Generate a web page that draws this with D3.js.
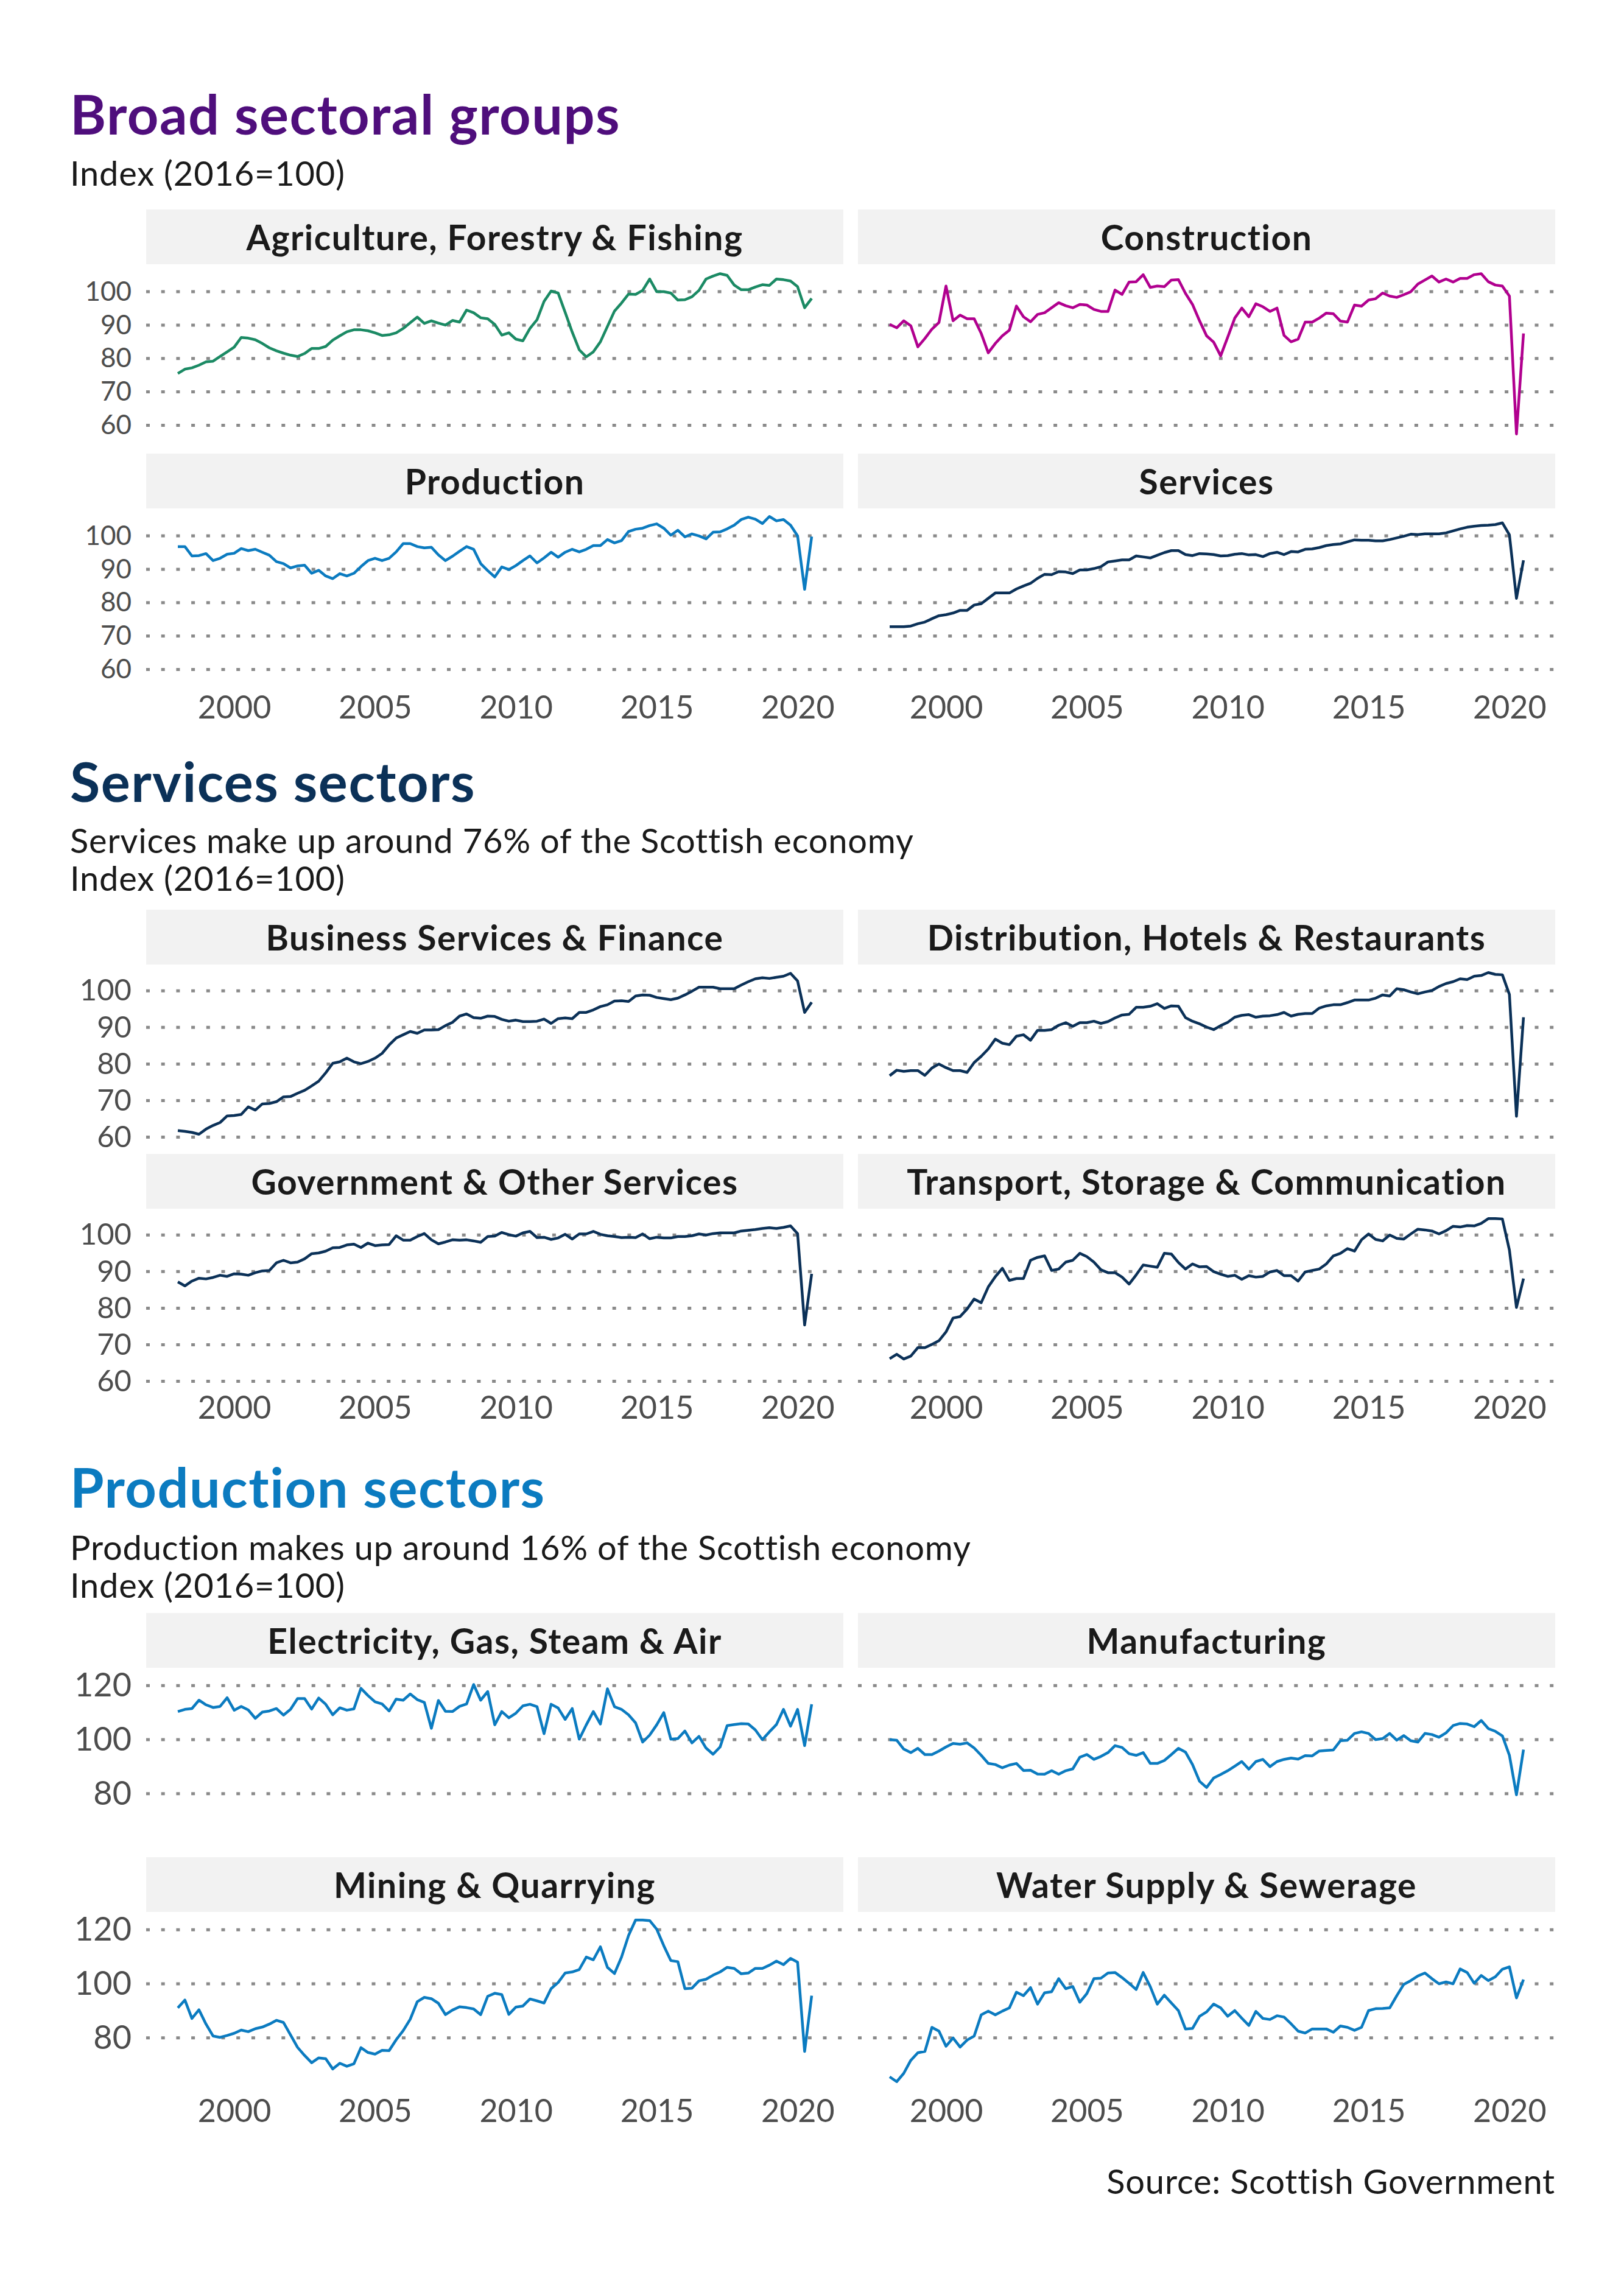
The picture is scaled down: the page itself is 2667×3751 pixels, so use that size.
<!DOCTYPE html>
<html>
<head>
<meta charset="utf-8">
<script src="https://cdn.jsdelivr.net/npm/d3@7"></script>
<style>
body { margin: 0; background: #fff; }
text { font-family: Lato, "Open Sans", sans-serif; }
</style>
</head>
<body>
<svg id="chart" width="2667" height="3751"></svg>
<script>
// quarterly index values, 1998 Q1 to 2020 Q3 (2016=100)
const firstYear = 1998;
const yearTicks = [2000, 2005, 2010, 2015, 2020];
const serviceTicks = [60, 70, 80, 90, 100];
const productionTicks = [80, 100, 120];

const agriculture = [
  75.5,76.8,77.2,78,79,79.2,80.6,82,83.4,86.3,
  86.1,85.6,84.5,83.2,82.3,81.6,81,80.6,81.5,83,
  83,83.6,85.5,86.8,88,88.6,88.6,88.3,87.7,86.9,
  87.1,87.7,89,90.7,92.4,90.5,91.3,90.6,90,91.4,
  90.9,94.5,93.7,92.2,91.9,90.2,87,87.7,85.8,85.3,
  89,91.6,97.1,100.2,99.6,93.8,87.9,82.6,80.5,82,
  85,89.6,94.2,96.6,99.3,99.2,100.4,103.8,100,100,
  99.6,97.5,97.6,98.5,100.4,103.8,104.7,105.4,104.9,102,
  100.6,100.6,101.4,102.1,101.9,103.8,103.6,103.2,101.5,95.2,
  98];
const construction = [
  90.2,89.2,91.3,89.8,83.5,86,88.8,90.8,101.7,91.3,
  93,91.9,91.9,87.5,81.7,84.5,86.8,88.5,95.7,92.5,
  91,93.2,93.7,95.2,96.7,95.8,95.2,96.2,96,94.7,
  94.1,94.1,100.5,99.2,102.9,103,105.1,101.3,101.7,101.5,
  103.5,103.6,99.5,96.2,91.3,86.8,84.9,80.8,86.4,92.1,
  95.1,92.5,96.4,95.5,94.1,95.1,86.9,85,85.8,90.9,
  90.9,92.1,93.6,93.4,91.2,90.9,96,95.7,97.5,97.9,
  99.6,98.7,98.3,99.1,100,102.3,103.5,104.7,102.9,103.8,
  102.9,104,104,105.1,105.4,103,102,101.7,98.7,57.4,
  87.5];
const production = [
  96.8,96.8,94,94.1,94.7,92.6,93.3,94.5,94.8,96.2,
  95.6,96,95.1,94.2,92.3,91.7,90.4,91,91.2,88.8,
  89.7,88,87.2,88.7,88,88.8,90.8,92.6,93.3,92.6,
  93.3,95.2,97.7,97.7,96.8,96.4,96.6,94.3,92.6,93.9,
  95.4,96.8,96,91.7,89.6,87.7,90.7,89.9,91.1,92.6,
  94,91.9,93.4,95.1,93.6,95.1,96,95.2,96,97.1,
  97.1,98.9,97.9,98.6,101.3,102,102.3,103.1,103.6,102.3,
  100.2,101.7,99.7,100.6,100,99.1,101.1,101.2,102.1,103.2,
  104.9,105.6,105,103.7,105.8,104.5,104.9,103.2,100,84,
  99.8];
const services = [
  72.8,72.8,72.8,73,73.7,74.2,75.2,76.1,76.4,76.9,
  77.7,77.7,79.3,79.7,81.3,82.9,82.9,82.9,84.1,85,
  85.8,87.3,88.5,88.4,89.3,89.2,88.7,89.8,89.8,90.2,
  90.8,92.2,92.5,92.8,92.8,94,93.7,93.4,94.2,95,
  95.6,95.6,94.4,94.1,94.7,94.6,94.4,94,94.1,94.5,
  94.7,94.3,94.4,93.8,94.7,95.1,94.4,95.3,95.2,96,
  96.1,96.5,97.1,97.4,97.6,98.2,98.8,98.7,98.7,98.5,
  98.5,98.9,99.4,99.9,100.5,100.4,100.6,100.6,100.6,100.9,
  101.5,102.1,102.6,102.9,103.1,103.2,103.4,103.9,100.3,81.3,
  92.7];
const business = [
  61.8,61.6,61.3,60.8,62.2,63.2,64,65.8,65.9,66.2,
  68.3,67.4,69.1,69.2,69.7,71,71.1,72,72.8,74,
  75.3,77.6,80.2,80.6,81.6,80.6,80.1,80.7,81.6,82.9,
  85.2,87.1,88,88.9,88.4,89.3,89.3,89.4,90.5,91.4,
  93.1,93.7,92.7,92.5,93.1,93,92.2,91.7,92,91.6,
  91.6,91.7,92.3,91.1,92.4,92.6,92.4,94.1,94.1,94.8,
  95.7,96.2,97.2,97.3,97.1,98.6,98.9,98.8,98.2,97.9,
  97.6,98,98.9,99.9,101,101,101,100.6,100.6,100.6,
  101.6,102.5,103.3,103.6,103.4,103.7,104,104.8,102.7,94.1,
  96.9];
const distribution = [
  76.8,78.3,78,78.2,78.2,76.9,78.9,80,79,78.2,
  78.2,77.7,80.4,82.1,84.1,86.8,85.7,85.3,87.6,88,
  86.5,89.2,89.2,89.4,90.6,91.3,90.3,91.3,91.3,91.7,
  91.1,91.6,92.6,93.4,93.6,95.5,95.5,95.8,96.5,95.2,
  95.9,95.8,92.7,91.7,91,90.1,89.4,90.5,91.4,92.8,
  93.3,93.5,92.8,93.1,93.2,93.5,94.1,93.1,93.6,93.8,
  93.8,95.3,95.9,96.2,96.2,96.8,97.5,97.5,97.5,98,
  98.9,98.6,100.6,100.3,99.7,99.2,99.7,100.1,101.2,102,
  102.5,103.3,103.1,104,104.2,105,104.5,104.4,99,65.7,
  92.8];
const government = [
  87.2,86.1,87.4,88.2,88,88.4,89,88.7,89.4,89.3,
  89,89.7,90.2,90.3,92.4,93.1,92.4,92.6,93.5,94.9,
  95.1,95.6,96.5,96.6,97.3,97.5,96.6,97.8,97.1,97.3,
  97.4,99.8,98.6,98.6,99.6,100.4,98.7,97.6,98.1,98.7,
  98.6,98.7,98.4,98,99.6,99.7,100.7,100.1,99.7,100.6,
  101,99.3,99.4,98.8,99.2,100.2,98.9,100.3,100.3,101,
  100.2,99.8,99.6,99.3,99.4,99.3,100.3,99,99.4,99.2,
  99.2,99.6,99.6,99.8,100.3,100,100.4,100.6,100.6,100.6,
  101.1,101.3,101.5,101.8,102,101.8,102.1,102.5,100.4,75.4,
  89.4];
const transport = [
  66.2,67.4,66.1,66.9,69.2,69.2,70.1,71.1,73.5,77.3,
  77.7,79.8,82.5,81.5,85.8,88.6,90.9,87.6,88.1,88.1,
  93.1,93.9,94.3,90.3,90.7,92.6,93.1,95,94.1,92.6,
  90.5,89.7,89.7,88.5,86.6,89.1,91.8,91.5,91.2,95,
  94.8,92.5,90.7,92.1,91.3,91.4,90,89.3,88.7,89,
  87.9,88.9,88.5,88.7,89.9,90.3,88.9,88.9,87.4,89.9,
  90.3,90.7,92.1,94.3,95,96.3,95.6,98.7,100.3,98.8,
  98.4,100,99.1,98.9,100.3,101.6,101.4,101.1,100.3,101.2,
  102.4,102.2,102.6,102.5,103.2,104.5,104.5,104.4,95.9,80.2,
  88.1];
const electricity = [
  110.4,111.2,111.5,114.6,112.9,111.9,112.3,115.5,110.9,112.3,
  111,107.9,110.2,110.6,111.5,109.1,111.2,115.2,115.2,111.3,
  115.4,113.1,109.2,111.8,110.9,111.4,119,116.3,114,113.2,
  110.6,115,114.6,116.9,114.8,113.8,104.2,114.5,110.5,110.4,
  112.3,113.2,120.4,114.6,117.8,105.5,110.4,108.1,109.8,112.5,
  113.1,112.2,102.2,113.1,111.7,107.5,111.5,100.2,105.5,110.4,
  105.8,118.8,112.2,111.2,109.2,106.2,99.1,101.7,105.5,110,
  100.2,100.4,103.2,98.8,101.2,96.9,94.6,97.3,105.2,105.6,
  105.9,105.8,103.6,100,102.9,105.6,111.2,105,111.2,97.8,
  113.1];
const manufacturing = [
  100,99.8,96.5,95.2,96.8,94.5,94.5,95.8,97.3,98.6,
  98.3,98.8,96.9,94.2,91.2,90.8,89.6,90.6,91.2,88.6,
  88.7,87.3,87.2,88.5,87.2,88.5,89.2,93.5,94.5,92.7,
  93.8,95.2,97.8,97.1,94.8,94.2,95.2,91.2,91.2,92.3,
  94.5,96.8,95.4,90.8,84.6,82.3,85.8,87.1,88.5,90.2,
  91.9,89.1,91.9,92.7,90,91.9,92.7,93.2,92.8,94.1,
  94,95.8,96,96.2,99.6,99.8,102.3,102.9,102.3,100,
  100.4,102.3,99.8,101.5,99.6,99.1,102.3,101.9,100.9,102.5,
  105.2,106,105.8,104.8,107.1,104.1,103.1,101.4,94.2,79.6,
  96.3];
const mining = [
  91.1,94,87.2,90.4,85.1,80.7,80.2,80.9,81.7,82.9,
  82.3,83.4,84,85.1,86.5,85.7,81.1,76.5,73.5,70.8,
  72.6,72.3,68.5,70.6,69.5,70.4,76.4,74.6,74,75.4,
  75.3,79.3,82.7,86.9,93.4,95,94.5,92.8,88.6,90.3,
  91.5,91.2,90.7,88.6,95.4,96.5,96,88.7,91.4,91.8,
  94.4,93.7,92.9,98.2,100.5,104,104.4,105.3,109.9,108.9,
  113.7,106.1,103.8,109.9,117.9,123.6,123.6,123.4,120.2,114.1,
  108.6,108.2,98.2,98.4,101.1,101.7,103.2,104.4,106.1,105.7,
  103.7,104,105.7,105.7,106.9,108.4,107.1,109.4,108,75,
  95.6];
const water = [
  65.6,63.8,66.9,71.7,74.5,75,83.9,82.5,76.9,80,
  76.6,79.2,80.7,88.5,89.9,88.5,89.9,91.1,96.9,95.6,
  98.6,92.5,96.7,97.1,101.9,98.2,99,93.2,96.4,101.9,
  102.1,104,104.2,102.3,100.2,97.9,104.2,99,92.5,95.8,
  92.9,90.1,83.3,83.5,88,89.6,92.5,91.1,88,90.1,
  87.3,84.6,89.8,87.2,86.8,88.2,87.7,85.2,82.5,81.8,
  83.3,83.3,83.3,82.1,84.4,83.9,82.8,83.9,90.1,90.8,
  90.9,91.1,95.6,99.8,101.2,102.9,104,101.9,100,100.7,
  100,105.5,104.2,100.2,103.1,101.2,102.6,105.4,106.3,94.8,
  101.6];

const purple = "#4f0e7c", green = "#1b8a64", magenta = "#b1008f";
const navy = "#0b3158", blue = "#0b7bc0";

const groups = [
  { title: "Broad sectoral groups", titleColor: purple, titleY: 221,
    subtitle: ["Index (2016=100)"], subY: [305], stripTop: 344, ticks: serviceTicks,
    panels: [
      { name: "Agriculture, Forestry & Fishing", values: agriculture, color: green },
      { name: "Construction", values: construction, color: magenta },
      { name: "Production", values: production, color: blue },
      { name: "Services", values: services, color: navy } ] },
  { title: "Services sectors", titleColor: navy, titleY: 1317,
    subtitle: ["Services make up around 76% of the Scottish economy", "Index (2016=100)"],
    subY: [1401, 1463], stripTop: 1494, ticks: serviceTicks,
    panels: [
      { name: "Business Services & Finance", values: business, color: navy },
      { name: "Distribution, Hotels & Restaurants", values: distribution, color: navy },
      { name: "Government & Other Services", values: government, color: navy },
      { name: "Transport, Storage & Communication", values: transport, color: navy } ] },
  { title: "Production sectors", titleColor: blue, titleY: 2476,
    subtitle: ["Production makes up around 16% of the Scottish economy", "Index (2016=100)"],
    subY: [2562, 2624], stripTop: 2649, ticks: productionTicks,
    panels: [
      { name: "Electricity, Gas, Steam & Air", values: electricity, color: blue },
      { name: "Manufacturing", values: manufacturing, color: blue },
      { name: "Mining & Quarrying", values: mining, color: blue },
      { name: "Water Supply & Sewerage", values: water, color: blue } ] }
];

// layout
var W = 2667, H = 3751;
var colX = [240, 1409], panelW = 1145, stripH = 90, panelH = 292, rowStep = 401;
var textLeft = 115;

var svg = d3.select("#chart");
svg.append("rect").attr("width", W).attr("height", H).attr("fill", "#fff");

var dates = agriculture.map((d, i) => firstYear + i / 4);
var span = dates[dates.length - 1] - dates[0];
var x = d3.scaleLinear()
    .domain([dates[0] - span * 0.05, dates[dates.length - 1] + span * 0.05])
    .range([0, panelW]);

groups.forEach(function(g) {
    svg.append("text")
        .attr("x", textLeft).attr("y", g.titleY)
        .text(g.title)
        .attr("fill", g.titleColor)
        .style("font-size", "90px").style("font-weight", 700)
        .style("letter-spacing", "1.5px");
    g.subtitle.forEach(function(s, i) {
        svg.append("text")
            .attr("x", textLeft).attr("y", g.subY[i])
            .text(s)
            .attr("fill", "#1a1a1a")
            .style("font-size", "56px")
            .style("letter-spacing", "0.8px");
    });

    // shared y scale for the four facets, padded 5% like ggplot
    var ext = d3.extent(g.panels.flatMap(p => p.values));
    var pad = (ext[1] - ext[0]) * 0.05;
    var y = d3.scaleLinear().domain([ext[0] - pad, ext[1] + pad]).range([panelH, 0]);
    // keep tick labels from running into each other where the grid is tight
    var tickGap = Math.abs(y(g.ticks[1]) - y(g.ticks[0]));
    var tickFont = Math.min(54, Math.floor(tickGap * 0.82));

    g.panels.forEach(function(p, k) {
        var col = k % 2, row = Math.floor(k / 2);
        var gp = svg.append("g")
            .attr("transform", "translate(" + colX[col] + "," + (g.stripTop + row * rowStep) + ")");

        gp.append("rect").attr("width", panelW).attr("height", stripH).attr("fill", "#f2f2f2");
        gp.append("text")
            .attr("x", panelW / 2).attr("y", stripH / 2)
            .attr("text-anchor", "middle").attr("dominant-baseline", "central")
            .text(p.name)
            .attr("fill", "#1a1a1a")
            .style("font-size", "57px").style("font-weight", 700)
            .style("letter-spacing", "1.5px");

        var plot = gp.append("g").attr("transform", "translate(0," + stripH + ")");

        plot.selectAll(".grid")
            .data(g.ticks)
            .enter().append("line")
            .attr("class", "grid")
            .attr("x1", 0).attr("x2", panelW)
            .attr("y1", d => y(d)).attr("y2", d => y(d))
            .attr("stroke", "#8a8a8a")
            .attr("stroke-width", 5)
            .attr("stroke-dasharray", "6 18.7");

        plot.append("path")
            .datum(p.values)
            .attr("d", d3.line().x((d, i) => x(dates[i])).y(d => y(d)))
            .attr("fill", "none")
            .attr("stroke", p.color)
            .attr("stroke-width", 4.5)
            .attr("stroke-linejoin", "round");

        if (col === 0) {
            plot.append("g")
                .call(d3.axisLeft(y).tickValues(g.ticks).tickSize(0).tickPadding(24))
                .call(a => a.select(".domain").remove())
                .selectAll("text")
                .attr("fill", "#4d4d4d")
                .style("font-size", tickFont + "px")
                .style("font-family", "Lato, 'Open Sans', sans-serif");
        }
        if (row === 1) {
            plot.append("g")
                .attr("transform", "translate(0," + panelH + ")")
                .call(d3.axisBottom(x).tickValues(yearTicks).tickFormat(d3.format("d")).tickSize(0).tickPadding(16))
                .call(a => a.select(".domain").remove())
                .selectAll("text")
                .attr("fill", "#4d4d4d")
                .style("font-size", "52px")
                .style("font-family", "Lato, 'Open Sans', sans-serif");
        }
    });
});

svg.append("text")
    .attr("x", colX[1] + panelW).attr("y", 3603)
    .attr("text-anchor", "end")
    .text("Source: Scottish Government")
    .attr("fill", "#1a1a1a")
    .style("font-size", "56px")
    .style("letter-spacing", "0.8px");
</script>
</body>
</html>
